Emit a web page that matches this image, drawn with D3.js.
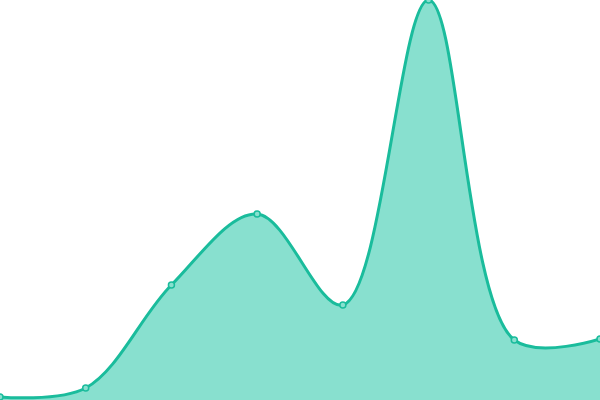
<!DOCTYPE html>
<html lang="en">
<head>
<meta charset="utf-8">
<title>Area</title>
<script src="https://d3js.org/d3.v7.min.js"></script>
<style>
html, body { margin: 0; padding: 0; background: #fff; }
svg { display: block; }
.area { fill: #88e0cf; }
.line { fill: none; stroke: #1abc9c; stroke-width: 3; }
.dot { fill: #88e0cf; stroke: #1abc9c; stroke-width: 1.5; }
</style>
</head>
<body>
<svg width="600" height="400"></svg>
<script>
// categories along x
var categories = [0, 1, 2, 3, 4, 5, 6, 7];
var values = [3, 12, 115, 186, 95, 400, 60, 61];

var svg = d3.select("svg"),
    width = +svg.attr("width"),
    height = +svg.attr("height");

var x = d3.scaleLinear()
    .domain(d3.extent(categories))
    .range([0, width]);

var y = d3.scaleLinear()
    .domain([0, 400])
    .range([height, 0]);

var data = categories.map(function(c, i) { return {c: c, v: values[i]}; });

var area = d3.area()
    .curve(d3.curveCatmullRom)
    .x(function(d) { return x(d.c); })
    .y0(height)
    .y1(function(d) { return y(d.v); });

var line = d3.line()
    .curve(d3.curveCatmullRom)
    .x(function(d) { return x(d.c); })
    .y(function(d) { return y(d.v); });

svg.append("path")
    .datum(data)
    .attr("class", "area")
    .attr("d", area);

svg.append("path")
    .datum(data)
    .attr("class", "line")
    .attr("d", line);

svg.selectAll(".dot")
    .data(data)
  .enter().append("circle")
    .attr("class", "dot")
    .attr("cx", function(d) { return x(d.c); })
    .attr("cy", function(d) { return y(d.v); })
    .attr("r", 3);
</script>
</body>
</html>
